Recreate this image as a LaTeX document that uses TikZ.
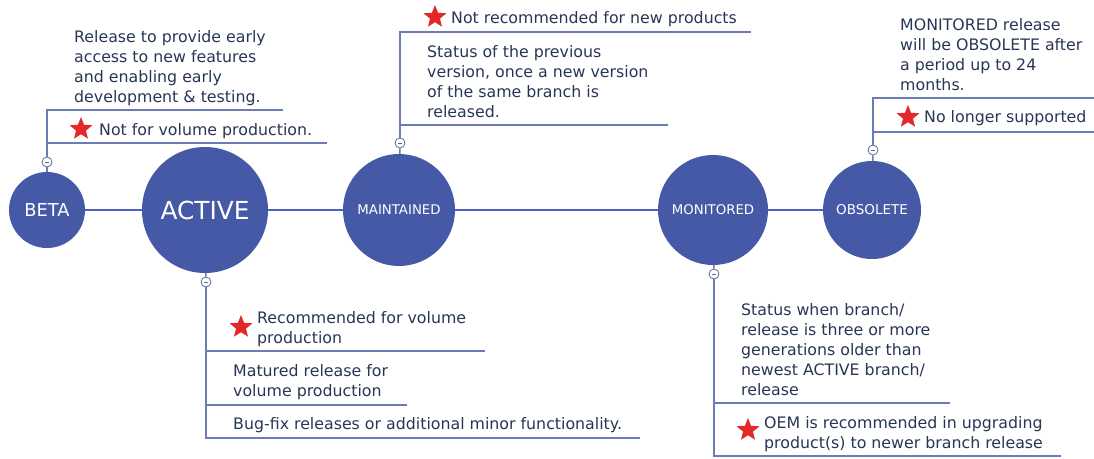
\documentclass[tikz,border=0pt]{standalone}
\usepackage{fontspec}
\setmainfont{DejaVu Sans}
\usetikzlibrary{shapes.geometric}
\definecolor{circ}{HTML}{4659A6}
\definecolor{linkc}{HTML}{4A62BE}
\definecolor{brk}{HTML}{6C7CB6}
\definecolor{tgl}{HTML}{5C6C8C}
\definecolor{txt}{HTML}{283655}
\definecolor{starred}{HTML}{E3282A}
\tikzset{
  state/.style={circle, fill=circ, text=white, inner sep=0pt},
  toggle/.style={circle, draw=tgl, fill=white, minimum size=10pt, inner sep=0pt, line width=0.8pt,
    path picture={\draw[tgl, line width=0.8pt] ([xshift=3pt]path picture bounding box.west) -- ([xshift=-3pt]path picture bounding box.east);}},
  desc/.style={anchor=north west, inner sep=0pt, align=left, text=txt, font=\fontsize{15.8}{20}\selectfont},
  line/.style={anchor=base west, inner sep=0pt, text=txt, font=\fontsize{15.8}{20}\selectfont},
  redstar/.style={star, star points=5, star point ratio=2.3, fill=starred, minimum size=24pt, inner sep=0pt},
  bracket/.style={draw=brk, line width=1.5pt},
  linkline/.style={draw=linkc, line width=2pt},
}
\begin{document}
\begin{tikzpicture}[x=1pt, y=-1pt]
\useasboundingbox (0,0) rectangle (1094,458);
% states
\node[state, minimum size=76pt, font=\fontsize{17.8}{17.8}\selectfont] (beta) at (47,210) {BETA};
\node[state, minimum size=126pt, font=\fontsize{24.8}{24.8}\selectfont] (active) at (205,210) {ACTIVE};
\node[state, minimum size=112pt, font=\fontsize{13.3}{13.3}\selectfont] (maint) at (399,210) {MAINTAINED};
\node[state, minimum size=110pt, font=\fontsize{13.3}{13.3}\selectfont] (monit) at (713,210) {MONITORED};
\node[state, minimum size=98pt, font=\fontsize{13.5}{13.5}\selectfont] (obs) at (872,210) {OBSOLETE};
\draw[linkline] (beta) -- (active);
\draw[linkline] (active) -- (maint);
\draw[linkline] (maint) -- (monit);
\draw[linkline] (monit) -- (obs);

% toggles
\node[toggle] (tb) at (47,162) {};
\node[toggle] (ta) at (206,282) {};
\node[toggle] (tm) at (400,143) {};
\node[toggle] (tn) at (714,274) {};
\node[toggle] (to) at (873,150) {};
\draw[bracket] (beta) -- (tb);
\draw[bracket] (active) -- (ta);
\draw[bracket] (maint) -- (tm);
\draw[bracket] (monit) -- (tn);
\draw[bracket] (obs) -- (to);

% BETA callout
\coordinate (b1) at (47,110); \coordinate (b1e) at (283,110);
\coordinate (b2) at (47,143); \coordinate (b2e) at (327,143);
\draw[bracket] (tb) -- (b1) -- (b1e);
\draw[bracket] (b2) -- (b2e);
\node[desc] (btxt) at (74,30) {Release to provide early\\access to new features\\and enabling early\\development \& testing.};
\node[redstar] (bstar) at (81,129) {};
\node[line] (bnote) at (99,135) {Not for volume production.};

% MAINTAINED callout
\coordinate (m1) at (400,32); \coordinate (m1e) at (751,32);
\coordinate (m2) at (400,125); \coordinate (m2e) at (668,125);
\draw[bracket] (tm) -- (m1) -- (m1e);
\draw[bracket] (m2) -- (m2e);
\node[redstar] (mstar) at (435,17) {};
\node[line] (mnote) at (451,23) {Not recommended for new products};
\node[desc] (mtxt) at (427,45) {Status of the previous\\version, once a new version\\of the same branch is\\released.};

% OBSOLETE callout
\coordinate (o1) at (873,98); \coordinate (o1e) at (1094,98);
\coordinate (o2) at (873,132); \coordinate (o2e) at (1094,132);
\draw[bracket] (to) -- (o1) -- (o1e);
\draw[bracket] (o2) -- (o2e);
\node[desc] (otxt) at (900,18) {MONITORED release\\will be OBSOLETE after\\a period up to 24\\months.};
\node[redstar] (ostar) at (908,117) {};
\node[line] (onote) at (924,122) {No longer supported};

% ACTIVE callout
\coordinate (a0) at (206,438); \coordinate (a0e) at (640,438);
\coordinate (a1) at (206,351); \coordinate (a1e) at (485,351);
\coordinate (a2) at (206,405); \coordinate (a2e) at (407,405);
\draw[bracket] (ta) -- (a0) -- (a0e);
\draw[bracket] (a1) -- (a1e);
\draw[bracket] (a2) -- (a2e);
\node[redstar] (astar) at (241,327) {};
\node[desc] (anote) at (257,311) {Recommended for volume\\production};
\node[desc] (atxt) at (233,364) {Matured release for\\volume production};
\node[line] (abug) at (233,429) {Bug-fix releases or additional minor functionality.};

% MONITORED callout
\coordinate (n0) at (714,456); \coordinate (n0e) at (1061,456);
\coordinate (n1) at (714,403); \coordinate (n1e) at (950,403);
\draw[bracket] (tn) -- (n0) -- (n0e);
\draw[bracket] (n1) -- (n1e);
\node[desc] (ntxt) at (741,303) {Status when branch/\\release is three or more\\generations older than\\newest ACTIVE branch/\\release};
\node[redstar] (nstar) at (748,430) {};
\node[desc] (nnote) at (764,416) {OEM is recommended in upgrading\\product(s) to newer branch release};
\end{tikzpicture}
\end{document}
